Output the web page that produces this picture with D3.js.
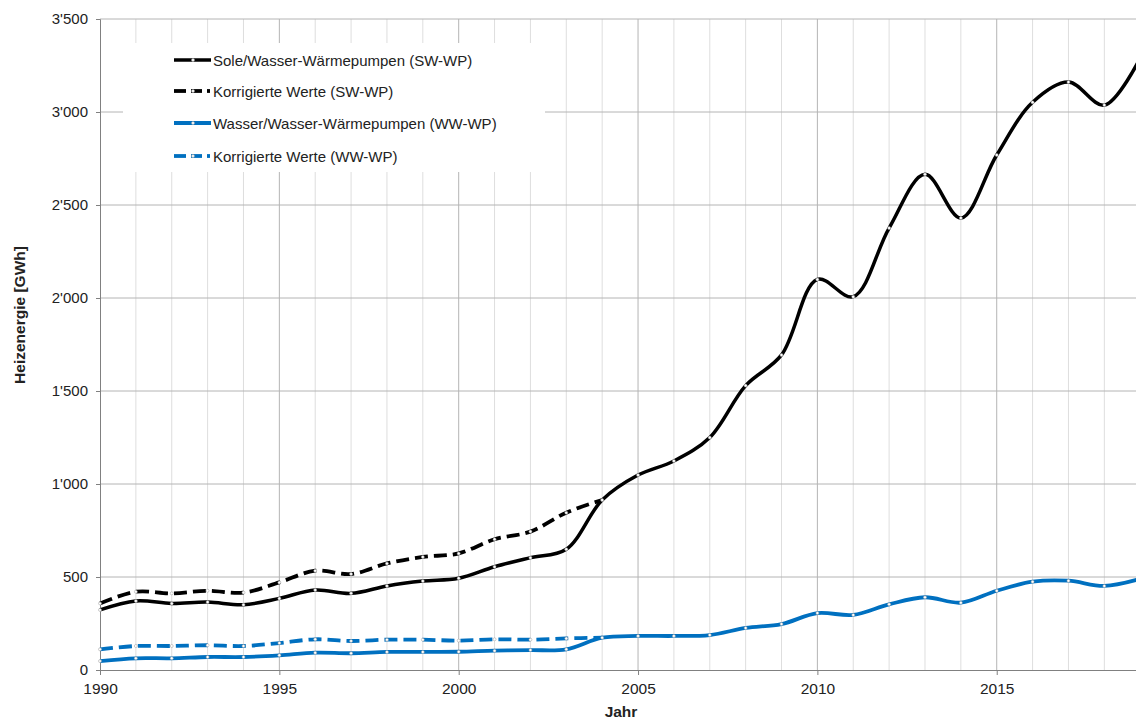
<!DOCTYPE html>
<html><head><meta charset="utf-8">
<script src="https://cdn.jsdelivr.net/npm/d3@7"></script>
<style>body{margin:0;background:#fff}svg{display:block;font-family:"Liberation Sans",Arial,sans-serif}</style>
</head><body><svg id="c" width="1136" height="720"></svg>
<script>
const years = d3.range(1990, 2020);
const swWP = [323,371,358,365,351,385,430,412,452,478,493,555,604,649,914,1048,1124,1250,1529,1694,2100,2007,2376,2665,2430,2769,3052,3161,3037,3290];
const swKorr = [358,421,412,426,416,471,534,516,573,608,627,703,744,846,914];
const wwWP = [48,63,63,70,70,79,93,90,97,97,98,104,107,111,174,183,183,188,226,247,306,296,353,391,362,426,475,480,452,490];
const wwKorr = [111,129,129,133,129,145,165,156,163,163,158,165,163,170,174];
const yTicks = [0,500,1000,1500,2000,2500,3000,3500];
const xTicks = [1990,1995,2000,2005,2010,2015];
const legendLabels = ["Sole/Wasser-Wärmepumpen (SW-WP)","Korrigierte Werte (SW-WP)","Wasser/Wasser-Wärmepumpen (WW-WP)","Korrigierte Werte (WW-WP)"];

const series = [
  {vals: swWP, color:"#000", dash:null, w:3.5},
  {vals: swKorr, color:"#000", dash:"13,6", w:3.8},
  {vals: wwWP, color:"#0070C0", dash:null, w:3.8},
  {vals: wwKorr, color:"#0070C0", dash:"13,6", w:3.8}
];

const svg = d3.select("#c");
const x = d3.scaleLinear().domain([1990, 2019]).range([100, 1140.2]);
const y = d3.scaleLinear().domain([0, 3500]).range([670, 19]);
const fmt = v => d3.format(",")(v).replace(/,/g, "'");

svg.append("g").selectAll("line").data(years.filter(d => d % 5 !== 0)).join("line")
  .attr("x1", d => x(d)).attr("x2", d => x(d)).attr("y1", y(3500)).attr("y2", y(0))
  .attr("stroke", "#dedede").attr("stroke-width", 1);
svg.append("g").selectAll("line").data(xTicks.filter(d => d > 1990)).join("line")
  .attr("x1", d => x(d)).attr("x2", d => x(d)).attr("y1", y(3500)).attr("y2", y(0))
  .attr("stroke", "#b4b4b4").attr("stroke-width", 1);
svg.append("g").selectAll("line").data(yTicks.filter(d => d > 0)).join("line")
  .attr("x1", x(1990)).attr("x2", 1136).attr("y1", d => y(d)).attr("y2", d => y(d))
  .attr("stroke", "#b4b4b4").attr("stroke-width", 1);

svg.append("rect").attr("x", 123).attr("y", 43).attr("width", 422).attr("height", 129).attr("fill", "#fff");

const yAxis = d3.axisLeft(y).tickValues(yTicks).tickFormat(fmt).tickSize(4).tickPadding(8);
const gy = svg.append("g").attr("transform", `translate(${x(1990)},0)`).call(yAxis);
gy.select(".domain").attr("stroke", "#808080");
gy.selectAll(".tick line").attr("stroke", "#808080");
gy.selectAll("text").attr("font-size", 15).attr("fill", "#222").attr("font-family", "Liberation Sans, Arial, sans-serif");

const xAxis = d3.axisBottom(x).tickValues(xTicks).tickFormat(d3.format("d")).tickSize(5).tickPadding(8);
const gx = svg.append("g").attr("transform", `translate(0,${y(0)})`).call(xAxis);
gx.select(".domain").attr("stroke", "#808080");
gx.selectAll(".tick line").attr("stroke", "#808080");
gx.selectAll("text").attr("font-size", 15.5).attr("fill", "#222").attr("font-family", "Liberation Sans, Arial, sans-serif");

svg.append("text").attr("transform", "translate(25,315) rotate(-90)").attr("text-anchor", "middle")
  .attr("font-size", 15.5).attr("font-weight", "bold").attr("fill", "#222").text("Heizenergie [GWh]");
svg.append("text").attr("x", 621).attr("y", 716.5).attr("text-anchor", "middle")
  .attr("font-size", 15.5).attr("font-weight", "bold").attr("fill", "#222").text("Jahr");

const line = d3.line().x((d, i) => x(years[i])).y(d => y(d)).curve(d3.curveCatmullRom.alpha(0.5));
svg.append("defs").append("clipPath").attr("id", "pc").append("rect")
  .attr("x", 95).attr("y", 0).attr("width", 1100).attr("height", 680);
const plot = svg.append("g").attr("clip-path", "url(#pc)");
[1,3,0,2].forEach(si => {
  const s = series[si];
  plot.append("path").datum(s.vals).attr("d", line).attr("fill", "none")
    .attr("stroke", s.color).attr("stroke-width", s.w)
    .attr("stroke-dasharray", s.dash).attr("stroke-linejoin", "round");
  plot.append("g").selectAll("circle").data(s.vals).join("circle")
    .attr("cx", (d, i) => x(years[i])).attr("cy", d => y(d)).attr("r", 1.5)
    .attr("fill", "#fff").attr("stroke", "#999").attr("stroke-width", 0.5);
});

const ly = [60, 91, 123, 156];
series.forEach((s, i) => {
  const g = svg.append("g");
  if (s.dash) {
    g.append("line").attr("x1", 174).attr("x2", 186).attr("y1", ly[i]).attr("y2", ly[i]).attr("stroke", s.color).attr("stroke-width", s.w);
    g.append("line").attr("x1", 191).attr("x2", 202).attr("y1", ly[i]).attr("y2", ly[i]).attr("stroke", s.color).attr("stroke-width", s.w);
    g.append("line").attr("x1", 207).attr("x2", 210).attr("y1", ly[i]).attr("y2", ly[i]).attr("stroke", s.color).attr("stroke-width", s.w);
  } else {
    g.append("line").attr("x1", 174).attr("x2", 211).attr("y1", ly[i]).attr("y2", ly[i]).attr("stroke", s.color).attr("stroke-width", s.w);
  }
  g.append("circle").attr("cx", 193).attr("cy", ly[i]).attr("r", 1.5).attr("fill", "#fff").attr("stroke", "#999").attr("stroke-width", 0.5);
  g.append("text").attr("x", 213).attr("y", ly[i] + 5.5).attr("font-size", 15).attr("fill", "#222").text(legendLabels[i]);
});
</script></body></html>
